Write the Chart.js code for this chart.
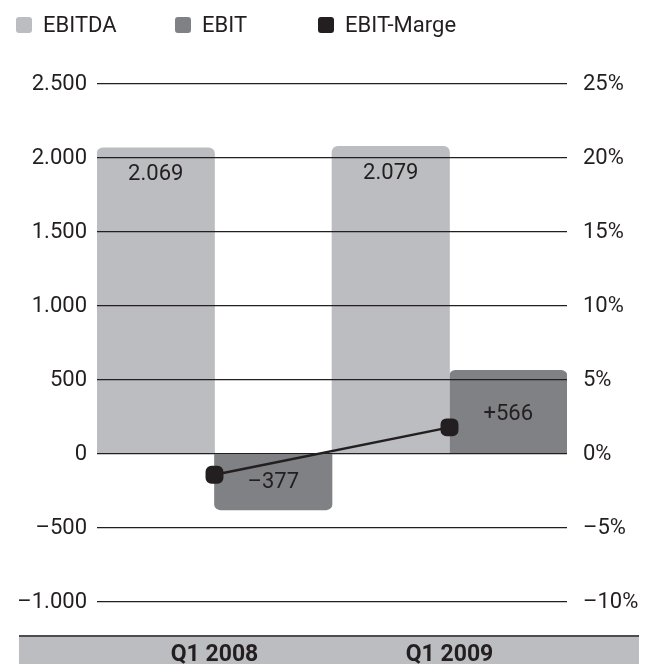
<!DOCTYPE html>
<html>
<head>
<meta charset="utf-8">
<script src="https://cdn.jsdelivr.net/npm/chart.js@4/dist/chart.umd.min.js"></script>
<style>
  html, body { margin: 0; padding: 0; background: #fff; }
  #wrap { width: 651px; height: 664px; position: relative; }
</style>
</head>
<body>
<div id="wrap"><canvas id="chart" width="651" height="664"></canvas></div>
<script>
// Daten
const categories = ['Q1 2008', 'Q1 2009'];
const ebitda = [2069, 2079];
const ebit = [-377, 566];
const ebitMarge = [-1.4, 1.8];   // in %
const seriesNames = ['EBITDA', 'EBIT', 'EBIT-Marge'];
const leftTicks = [-1000, -500, 0, 500, 1000, 1500, 2000, 2500];
const rightTicks = [-10, -5, 0, 5, 10, 15, 20, 25];

const INK = '#231f20';
const GREY_LIGHT = '#bcbdc0';
const GREY_DARK = '#808184';
const FONT = 'Roboto, "Liberation Sans", Arial, sans-serif';

// deutsches Zahlenformat mit Gedankenstrich als Minus
function fmt(v, plus) {
    const abs = Math.abs(v).toString().replace(/\B(?=(\d{3})+(?!\d))/g, '.');
    if (v < 0) return '\u2013' + abs;
    if (plus && v > 0) return '+' + abs;
    return abs;
}

// Legende oben links
const legendPlugin = {
    id: 'topLegend',
    afterDraw(chart) {
        const ctx = chart.ctx;
        const xs = [16, 175, 318];
        const colors = [GREY_LIGHT, GREY_DARK, INK];
        ctx.save();
        ctx.font = '22px ' + FONT;
        ctx.textBaseline = 'middle';
        seriesNames.forEach((name, i) => {
            ctx.fillStyle = colors[i];
            ctx.beginPath();
            ctx.roundRect(xs[i], 17, 16, 16, 3);
            ctx.fill();
            ctx.fillStyle = INK;
            ctx.fillText(name, xs[i] + 27, 26);
        });
        ctx.restore();
    }
};

// grauer Balken unter dem Diagramm
const bandPlugin = {
    id: 'band',
    beforeDraw(chart) {
        const ctx = chart.ctx;
        ctx.save();
        ctx.fillStyle = GREY_LIGHT;
        ctx.fillRect(19, 636, 620, 28);
        ctx.fillStyle = '#4d4d4f';
        ctx.fillRect(19, 635, 620, 2);
        ctx.restore();
    }
};

// Werte in den Balken
const valuePlugin = {
    id: 'values',
    afterDatasetsDraw(chart) {
        const ctx = chart.ctx;
        const offsets = [[27, 27], [27, 44]];
        ctx.save();
        ctx.font = '22px ' + FONT;
        ctx.fillStyle = INK;
        ctx.textAlign = 'center';
        ctx.textBaseline = 'middle';
        [0, 1].forEach(d => {
            const meta = chart.getDatasetMeta(d);
            meta.data.forEach((el, i) => {
                const v = chart.data.datasets[d].data[i];
                const y = v >= 0 ? el.y + offsets[d][i] : el.y - offsets[d][i];
                ctx.fillText(fmt(v, d === 1), el.x, y);
            });
        });
        ctx.restore();
    }
};

new Chart(document.getElementById('chart'), {
    data: {
        labels: categories,
        datasets: [
            {
                type: 'bar',
                label: seriesNames[0],
                data: ebitda,
                backgroundColor: GREY_LIGHT,
                borderRadius: 6,
                borderSkipped: 'start',
                yAxisID: 'y',
                order: 1
            },
            {
                type: 'bar',
                label: seriesNames[1],
                data: ebit,
                backgroundColor: GREY_DARK,
                borderRadius: 6,
                borderSkipped: 'start',
                yAxisID: 'y',
                order: 2
            },
            {
                type: 'line',
                label: seriesNames[2],
                data: ebitMarge,
                borderColor: INK,
                borderWidth: 2.5,
                backgroundColor: INK,
                pointStyle: 'rectRounded',
                pointRadius: 9,
                pointHoverRadius: 9,
                yAxisID: 'y2',
                order: 0
            }
        ]
    },
    options: {
        responsive: false,
        animation: false,
        devicePixelRatio: 1,
        layout: { padding: { top: 84, left: 0, right: 0, bottom: 0 } },
        plugins: {
            legend: { display: false },
            tooltip: { enabled: false }
        },
        datasets: {
            bar: { barPercentage: 1, categoryPercentage: 1 }
        },
        scales: {
            x: {
                grid: { display: false },
                border: { display: false },
                ticks: {
                    color: INK,
                    padding: 31,
                    font: { family: FONT, size: 23, weight: 'bold' }
                },
                afterFit(s) { s.height = 62; }
            },
            y: {
                position: 'left',
                min: leftTicks[0],
                max: leftTicks[leftTicks.length - 1],
                afterBuildTicks(s) { s.ticks = leftTicks.map(v => ({ value: v })); },
                grid: { color: INK, lineWidth: 1.3, drawTicks: false, z: 1 },
                border: { display: false },
                ticks: {
                    color: INK,
                    padding: 10,
                    font: { family: FONT, size: 22 },
                    callback: v => fmt(v)
                },
                afterFit(s) { s.width = 97; }
            },
            y2: {
                position: 'right',
                min: rightTicks[0],
                max: rightTicks[rightTicks.length - 1],
                afterBuildTicks(s) { s.ticks = rightTicks.map(v => ({ value: v })); },
                grid: { display: false, drawTicks: false },
                border: { display: false },
                ticks: {
                    color: INK,
                    padding: 16,
                    font: { family: FONT, size: 22 },
                    callback: v => fmt(v) + '%'
                },
                afterFit(s) { s.width = 84; }
            }
        }
    },
    plugins: [bandPlugin, valuePlugin, legendPlugin]
});
</script>
</body>
</html>
